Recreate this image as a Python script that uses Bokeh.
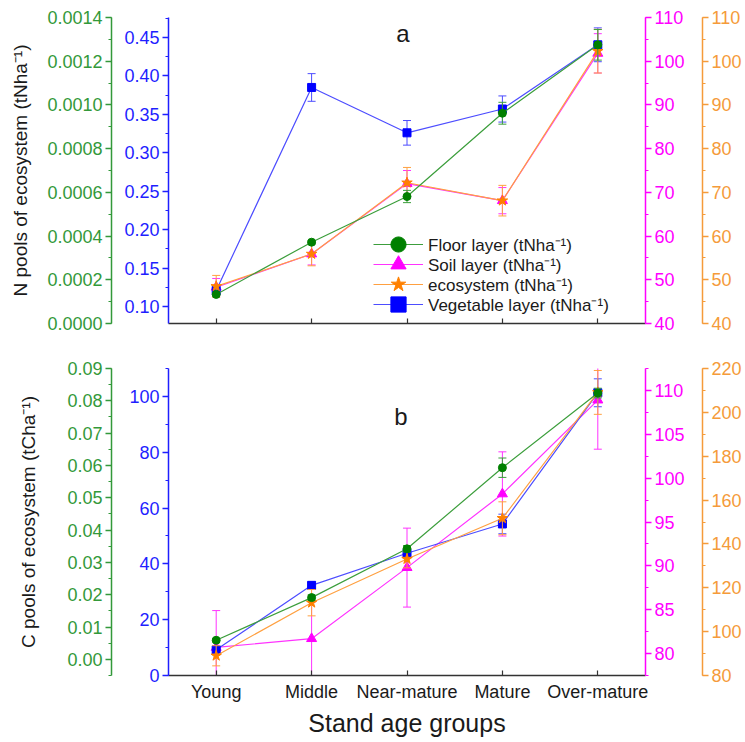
from bokeh.plotting import figure
from bokeh.models import (Range1d, FactorRange, LinearAxis, SingleIntervalTicker,
                          NumeralTickFormatter, CustomJSTickFormatter, Legend, LegendItem,
                          Label, ColumnDataSource)
from bokeh.layouts import column
from bokeh.embed import file_html
from bokeh.resources import INLINE

# ---------------- data ----------------
cats = ["Young", "Middle", "Near-mature", "Mature", "Over-mature"]

# Panel a : N pools
n_floor = [0.000133, 0.000372, 0.000581, 0.000962, 0.001275]
n_floor_err = [0.000006, 0.000008, 0.000028, 0.00005, 0.00007]
n_soil = [48.3, 55.9, 72.0, 68.1, 101.8]
n_soil_err = [2.0, 2.5, 3.0, 3.0, 4.5]
n_eco = [48.5, 55.9, 72.2, 68.1, 102.3]
n_eco_err = [2.5, 2.7, 3.5, 3.5, 5.0]
n_veg = [0.121, 0.385, 0.326, 0.357, 0.4405]
n_veg_err = [0.005, 0.018, 0.016, 0.017, 0.022]

# Panel b : C pools
c_floor = [0.0059, 0.0191, 0.0342, 0.0593, 0.0824]
c_floor_err = [0.0005, 0.0008, 0.001, 0.003, 0.0015]
c_soil = [80.7, 81.7, 89.8, 98.2, 108.9]
c_soil_err = [4.2, 4.2, 4.5, 4.8, 5.6]
c_eco = [89.0, 113.2, 133.1, 151.7, 209.1]
c_eco_err = [4.6, 6.0, 4.0, 7.5, 10.0]
c_veg = [9.2, 32.3, 43.8, 54.3, 101.3]
c_veg_err = [1.0, 1.2, 1.5, 3.5, 5.0]

legend_labels = ["Floor layer (tNha⁻¹)", "Soil layer (tNha⁻¹)",
                 "ecosystem (tNha⁻¹)", "Vegetable layer (tNha⁻¹)"]

FONT = "Liberation Sans"
GREEN_AX, GREEN_LN, GREEN_MK = "#33993a", "#3c9e3c", "#008000"
BLUE_AX, BLUE_LN, BLUE_MK = "#1f1fff", "#4d4dff", "#0000ff"
MAG_AX, MAG_LN, MAG_MK = "#ff00ff", "#ff33ff", "#ff00ff"
ORG_AX, ORG_LN, ORG_MK = "#f59b3a", "#ffa040", "#ff8000"
TXT = "#1a1a1a"
W = 744


def style_axis(ax, color, interval, fmt):
    ax.ticker = SingleIntervalTicker(interval=interval, num_minor_ticks=2)
    ax.formatter = NumeralTickFormatter(format=fmt)
    ax.axis_line_color = color
    ax.axis_line_width = 1.5
    ax.major_tick_line_color = color
    ax.minor_tick_line_color = color
    ax.major_tick_line_width = 1.5
    ax.minor_tick_line_width = 1
    ax.major_tick_in = 0
    ax.major_tick_out = 6
    ax.minor_tick_in = 0
    ax.minor_tick_out = 3
    ax.major_label_text_color = color
    ax.major_label_text_font = FONT
    ax.major_label_text_font_size = "18px"
    ax.major_label_standoff = 3


def style_x(xa):
    xa.axis_line_color = "#333333"
    xa.axis_line_width = 1.5
    xa.major_tick_line_color = "#333333"
    xa.major_tick_line_width = 1.2
    xa.major_tick_in = 5
    xa.major_tick_out = 0
    xa.minor_tick_line_color = None


def add_series(p, y, err, rng, ln, mk, marker, size):
    lo = [v - e for v, e in zip(y, err)]
    hi = [v + e for v, e in zip(y, err)]
    src = ColumnDataSource(dict(x=cats, y=y, lo=lo, hi=hi))
    p.segment(x0="x", y0="lo", x1="x", y1="hi", source=src, line_color=ln,
              line_width=1, y_range_name=rng)
    p.scatter(x="x", y="lo", marker="dash", size=8, line_color=ln, line_width=1,
              source=src, y_range_name=rng)
    p.scatter(x="x", y="hi", marker="dash", size=8, line_color=ln, line_width=1,
              source=src, y_range_name=rng)
    lr = p.line(x="x", y="y", source=src, line_color=ln, line_width=1.2, y_range_name=rng)
    sr = p.scatter(x="x", y="y", source=src, marker=marker, size=size, fill_color=mk,
                   line_color=mk, y_range_name=rng)
    return lr, sr


def make_panel(height, top, bottom, blue_rng, green_rng, mag_rng, org_rng,
               ticks, ytitle, blue_pad, title_standoff):
    p = figure(x_range=FactorRange(*cats), y_range=Range1d(*blue_rng),
               width=W, height=height, output_backend="svg", toolbar_location=None,
               min_border_left=168, min_border_right=W - 650, min_border_top=top,
               min_border_bottom=bottom, outline_line_color=None,
               background_fill_color="white", border_fill_color="white")
    p.grid.visible = False
    p.extra_y_ranges = {"green": Range1d(*green_rng), "mag": Range1d(*mag_rng),
                        "org": Range1d(*org_rng)}
    style_x(p.xaxis[0])
    # blue (inner left)
    ba = p.yaxis[0]
    style_axis(ba, BLUE_AX, ticks[0][0], ticks[0][1])
    ba.axis_label = " "
    ba.axis_label_text_font_size = f"{blue_pad}px"
    ba.axis_label_standoff = 0
    # green (outer left)
    ga = LinearAxis(y_range_name="green")
    style_axis(ga, GREEN_AX, ticks[1][0], ticks[1][1])
    ga.axis_label = ytitle
    ga.axis_label_text_font = FONT
    ga.axis_label_text_font_size = "19px"
    ga.axis_label_text_font_style = "normal"
    ga.axis_label_text_color = TXT
    ga.axis_label_standoff = title_standoff
    p.add_layout(ga, "left")
    # magenta (inner right)
    ma = LinearAxis(y_range_name="mag")
    style_axis(ma, MAG_AX, ticks[2][0], ticks[2][1])
    ma.axis_label = " "
    ma.axis_label_text_font_size = "11px"
    ma.axis_label_standoff = 0
    p.add_layout(ma, "right")
    # orange (outer right)
    oa = LinearAxis(y_range_name="org")
    style_axis(oa, ORG_AX, ticks[3][0], ticks[3][1])
    p.add_layout(oa, "right")
    return p


# ---------------- panel a ----------------
pa = make_panel(340, 17, 17, (0.078, 0.476), (0.0, 0.0014), (40, 110), (40, 110),
                [(0.05, "0.00"), (0.0002, "0.0000"), (10, "0"), (10, "0")],
                "N pools of ecosystem (tNha⁻¹)", 7, 13)
# bottom axis of panel a: ticks at category centres, no labels
pa.xaxis[0].formatter = CustomJSTickFormatter(code="return ''")

s_soil = add_series(pa, n_soil, n_soil_err, "mag", MAG_LN, MAG_MK, "triangle", 10)
s_veg = add_series(pa, n_veg, n_veg_err, "default", BLUE_LN, BLUE_MK, "square", 8)
s_eco = add_series(pa, n_eco, n_eco_err, "org", ORG_LN, ORG_MK, "star", 11)
s_floor = add_series(pa, n_floor, n_floor_err, "green", GREEN_LN, GREEN_MK, "circle", 8)

for lab, rends, ly in zip(legend_labels, [s_floor, s_soil, s_eco, s_veg], [60, 40, 20, 0]):
    lg = Legend(items=[LegendItem(label=lab, renderers=list(rends))],
                location=(205, ly), glyph_width=50, glyph_height=38, label_height=18,
                label_standoff=5, padding=0, margin=0, spacing=0, border_line_color=None,
                background_fill_alpha=0, label_text_font=FONT, label_text_font_size="17px",
                label_text_color=TXT)
    pa.add_layout(lg)

pa.add_layout(Label(x=2.5, y=106.3, y_range_name="mag", text="a", text_font=FONT,
                    text_font_size="24px", text_color=TXT, text_align="center",
                    text_baseline="middle", x_offset=-4))

# ---------------- panel b ----------------
pb = make_panel(400, 28, 65, (0, 110), (-0.005, 0.09), (77.5, 112.5), (80, 220),
                [(20, "0"), (0.01, "0.00"), (5, "0"), (20, "0")],
                "C pools of ecosystem (tCha⁻¹)", 11, 25)
xb = pb.xaxis[0]
xb.major_label_text_font = FONT
xb.major_label_text_font_size = "18px"
xb.major_label_text_color = TXT
xb.major_label_standoff = 6
xb.axis_label = "Stand age groups"
xb.axis_label_text_font = FONT
xb.axis_label_text_font_size = "25px"
xb.axis_label_text_font_style = "normal"
xb.axis_label_text_color = TXT
xb.axis_label_standoff = 4

add_series(pb, c_soil, c_soil_err, "mag", MAG_LN, MAG_MK, "triangle", 10)
add_series(pb, c_veg, c_veg_err, "default", BLUE_LN, BLUE_MK, "square", 8)
add_series(pb, c_eco, c_eco_err, "org", ORG_LN, ORG_MK, "star", 11)
add_series(pb, c_floor, c_floor_err, "green", GREEN_LN, GREEN_MK, "circle", 8)
pb.add_layout(Label(x=2.5, y=92.8, text="b", text_font=FONT, text_font_size="24px",
                    text_color=TXT, text_align="center", text_baseline="middle",
                    x_offset=-6))

layout = column(pa, pb)
open("out.html", "w").write(file_html(layout, INLINE))
